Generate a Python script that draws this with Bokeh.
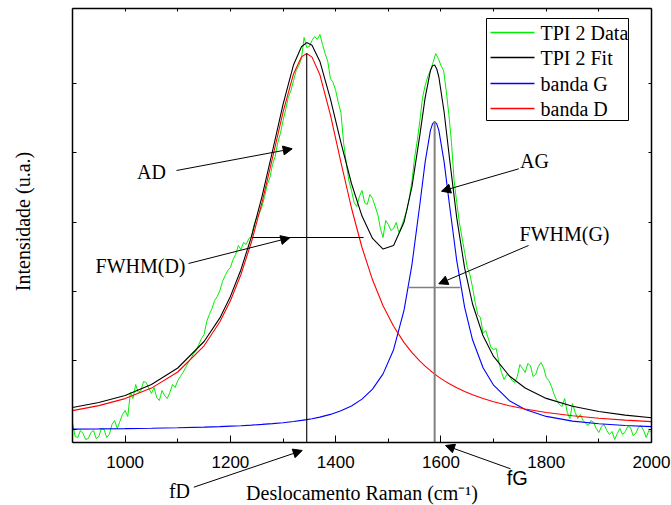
import math
from bokeh.plotting import figure
from bokeh.models import (LinearAxis, SingleIntervalTicker, FixedTicker,
                          Arrow, NormalHead, Label)
from bokeh.embed import file_html
from bokeh.resources import INLINE

# ---------------- data (intensity in arbitrary units) ----------------
data_x = list(range(900, 2001, 5))
data_y = [20, 6, 5, 12, 9, 3, 4, 10, 12, 4, 6, 14, 13, 5, 8, 18, 22, 14, 21, 28,
          32, 26, 50, 44, 58, 50, 52, 61, 60, 54, 49, 55, 45, 42, 52, 47, 44, 50, 58, 55,
          62, 66, 70, 75, 80, 84, 89, 92, 98, 104, 108, 121, 128, 134, 142, 146, 152, 161, 167, 172,
          175, 183, 188, 197, 193, 200, 198, 204, 206, 218, 225, 229, 236, 246, 258, 265, 278, 286, 300, 309,
          322, 333, 345, 352, 362, 372, 377, 384, 405, 395, 396, 402, 406, 403, 408, 398, 389, 381, 364, 360,
          352, 340, 330, 300, 280, 262, 252, 240, 236, 246, 252, 240, 238, 248, 244, 236, 228, 214, 205, 222,
          218, 212, 214, 220, 210, 216, 224, 232, 245, 262, 285, 302, 322, 345, 357, 366, 372, 380, 389, 384,
          377, 372, 352, 328, 300, 262, 240, 220, 205, 190, 175, 168, 155, 140, 128, 125, 109, 112, 104, 95,
          93, 94, 80, 70, 63, 68, 67, 62, 60, 66, 78, 74, 70, 79, 77, 66, 68, 76, 80, 75,
          65, 62, 56, 48, 42, 38, 36, 44, 30, 24, 39, 30, 24, 28, 22, 19, 17, 22, 20, 14,
          10, 16, 18, 12, 8, 11, 3, 9, 14, 8, 11, 16, 15, 7, 9, 15, 17, 12, 5, 12,
          10]

comp_x = [900, 950, 1000, 1050, 1100, 1150, 1180, 1200, 1220, 1240,
          1260, 1280, 1300, 1320, 1335, 1345, 1355, 1370, 1390, 1410,
          1430, 1450, 1470, 1490, 1510, 1530, 1545, 1560, 1570, 1580,
          1584, 1588, 1592, 1596, 1606, 1616, 1630, 1645, 1660, 1680,
          1700, 1730, 1760, 1800, 1850, 1900, 1950, 2000]
band_d = [31.9, 36.9, 43.9, 54.4, 70.5, 96.7, 120.7, 141.7, 168.0, 200.5,
          239.8, 284.6, 330.4, 368.8, 385.6, 389.0, 385.4, 367.7, 327.6, 280.1,
          234.5, 195.0, 162.7, 136.8, 116.2, 99.9, 89.8, 81.3, 76.3, 71.8,
          70.1, 68.5, 66.9, 65.4, 61.9, 58.8, 54.8, 51.1, 47.8, 44.0,
          40.8, 36.7, 33.5, 30.0, 26.8, 24.3, 22.4, 20.9]
band_g = [13.4, 13.6, 13.9, 14.3, 14.8, 15.4, 15.9, 16.4, 16.8, 17.4,
          18.1, 18.9, 19.8, 21.0, 22.1, 22.9, 23.8, 25.4, 28.1, 31.7,
          36.5, 43.4, 53.4, 68.6, 92.8, 132.6, 178.2, 238.5, 280.6, 312.1,
          318.7, 321.0, 318.7, 312.1, 280.6, 238.5, 181.8, 135.2, 102.7, 74.7,
          57.3, 41.8, 33.0, 26.1, 21.4, 18.7, 17.0, 15.9]
fit = [35.0, 40.0, 47.0, 58.0, 74.5, 101.0, 124.6, 146.1, 172.8, 205.9,
       245.9, 291.5, 338.2, 377.8, 395.7, 399.9, 397.2, 381.1, 343.7, 299.8,
       259.0, 226.4, 204.1, 193.4, 197.0, 220.5, 256.0, 307.8, 344.9, 371.9,
       376.8, 377.5, 373.6, 365.5, 330.5, 285.3, 224.6, 174.3, 138.5, 106.7,
       86.1, 66.5, 54.5, 44.1, 36.2, 31.0, 27.4, 24.8]

series_labels = ["TPI 2 Data", "TPI 2 Fit", "banda G", "banda D"]
series_colors = ["#00ee00", "black", "#0000ff", "#ff0000"]

# band positions, heights and half-maximum widths
d_center, d_peak = 1345, 389
g_center, g_peak = 1588, 321
fwhm_d = [1242, 1453]
fwhm_d_level = 205
fwhm_g = [1536, 1637]
fwhm_g_level = 155

x_min, x_max = 900, 2000
y_min, y_max = 0, 434
x_tick_step = 200
y_ticks = [13, 82, 151, 220, 290, 359]

SERIF = "Liberation Serif"
SANS = "Liberation Sans"

W, H = 671, 505
FL, FR, FT, FB = 72, 651, 8, 442          # axes box in pixels
sx = (x_max - x_min) / (FR - FL)           # data units per pixel (x)
sy = (y_max - y_min) / (FB - FT)           # data units per pixel (y)


def px_x(px):
    return x_min + (px - FL) * sx


def px_y(py):
    return y_min + (FB - py) * sy


p = figure(width=W, height=H,
           x_range=(x_min - FL * sx, x_max + (W - FR) * sx),
           y_range=(y_min - (H - FB) * sy, y_max + FT * sy),
           output_backend="svg", toolbar_location=None,
           min_border=0, min_border_left=0, min_border_right=0,
           min_border_top=0, min_border_bottom=0)
p.xgrid.visible = False
p.ygrid.visible = False
p.outline_line_color = None
p.background_fill_color = "white"
p.border_fill_color = "white"

# bottom axis
xa = p.xaxis[0]
xa.fixed_location = y_min
xa.bounds = (x_min, x_max)
xa.ticker = SingleIntervalTicker(interval=x_tick_step, num_minor_ticks=2)
xa.major_tick_in = 7
xa.major_tick_out = 0
xa.minor_tick_in = 4
xa.minor_tick_out = 0
xa.axis_line_width = 1.5
xa.major_label_text_font = SANS
xa.major_label_text_font_size = "17px"
xa.major_label_text_color = "black"
xa.major_label_standoff = 13

# left axis
ya = p.yaxis[0]
ya.fixed_location = x_min
ya.bounds = (y_min, y_max)
ya.ticker = FixedTicker(ticks=y_ticks)
ya.major_tick_in = 4
ya.major_tick_out = 0
ya.minor_tick_line_color = None
ya.axis_line_width = 1.5
ya.major_label_text_color = None

top = LinearAxis(ticker=SingleIntervalTicker(interval=x_tick_step // 2, num_minor_ticks=0),
                 fixed_location=y_max, bounds=(x_min, x_max),
                 major_tick_in=3, major_tick_out=0, minor_tick_line_color=None,
                 major_label_text_color=None, axis_line_width=1.5)
p.add_layout(top, "above")
right = LinearAxis(ticker=FixedTicker(ticks=y_ticks),
                   fixed_location=x_max, bounds=(y_min, y_max),
                   major_tick_in=3, major_tick_out=0, minor_tick_line_color=None,
                   major_label_text_color=None, axis_line_width=1.5)
p.add_layout(right, "right")

# curves
p.line(data_x, data_y, line_color=series_colors[0], line_width=1)
p.line(comp_x, fit, line_color=series_colors[1], line_width=1.1)
p.line(comp_x, band_g, line_color=series_colors[2], line_width=1.1)
p.line(comp_x, band_d, line_color=series_colors[3], line_width=1.1)

# marker lines
p.segment(x0=[d_center], y0=[y_min], x1=[d_center], y1=[d_peak], line_color="black", line_width=1.1)
p.segment(x0=[fwhm_d[0]], y0=[fwhm_d_level], x1=[fwhm_d[1]], y1=[fwhm_d_level],
          line_color="black", line_width=1.1)
p.segment(x0=[g_center], y0=[y_min], x1=[g_center], y1=[g_peak], line_color="#808080", line_width=2)
p.segment(x0=[fwhm_g[0]], y0=[fwhm_g_level], x1=[fwhm_g[1]], y1=[fwhm_g_level],
          line_color="#808080", line_width=1.5)

# annotations: (text, text centre px x, px y, font, arrow start px, arrow tip px)
annotations = [
    ("AD", 151, 171.7, SERIF, (176, 170), (291.7, 148.3)),
    ("FWHM(D)", 140, 265, SERIF, (188, 263), (289.3, 237.3)),
    ("AG", 534, 160.3, SERIF, (518.3, 168.3), (441, 190.7)),
    ("FWHM(G)", 564, 233.2, SERIF, (528, 245), (438.3, 283.3)),
    ("fD", 179, 490.5, SERIF, (193.3, 486.7), (301.7, 450)),
    ("fG", 516.7, 477.5, SANS, (510, 468.3), (445, 445)),
]
for txt, tx, ty, font, (ax0, ay0), (ax1, ay1) in annotations:
    p.add_layout(Label(x=px_x(tx), y=px_y(ty), text=txt, text_font=font, text_font_size="20px",
                       text_align="center", text_baseline="middle", text_color="black"))
    p.add_layout(Arrow(end=NormalHead(size=9, fill_color="black", line_color="black", line_width=1),
                       x_start=px_x(ax0), y_start=px_y(ay0), x_end=px_x(ax1), y_end=px_y(ay1),
                       line_color="black", line_width=1))

# axis titles
p.add_layout(Label(x=px_x(361.5), y=px_y(492.5), text="Deslocamento Raman (cm\u207b\u00b9)",
                   text_font=SERIF, text_font_size="20px", text_align="center",
                   text_baseline="middle", text_color="black"))
p.add_layout(Label(x=px_x(22), y=px_y(221), text="Intensidade (u.a.)", angle=math.pi / 2,
                   text_font=SERIF, text_font_size="20px", text_align="center",
                   text_baseline="middle", text_color="black"))

# legend box (drawn by hand)
LG_L, LG_R, LG_T, LG_B = 486, 628, 18, 120
p.quad(left=[px_x(LG_L)], right=[px_x(LG_R)], top=[px_y(LG_T)], bottom=[px_y(LG_B)],
       fill_color="white", line_color="black", line_width=1)
row_y = [32, 57, 83, 108]
for lab, col, ry in zip(series_labels, series_colors, row_y):
    p.segment(x0=[px_x(490)], y0=[px_y(ry)], x1=[px_x(534)], y1=[px_y(ry)],
              line_color=col, line_width=1.3)
    p.add_layout(Label(x=px_x(540), y=px_y(ry), text=lab, text_font=SERIF,
                       text_font_size="20px", text_align="left", text_baseline="middle",
                       text_color="black"))

open("out.html", "w").write(file_html(p, INLINE))
